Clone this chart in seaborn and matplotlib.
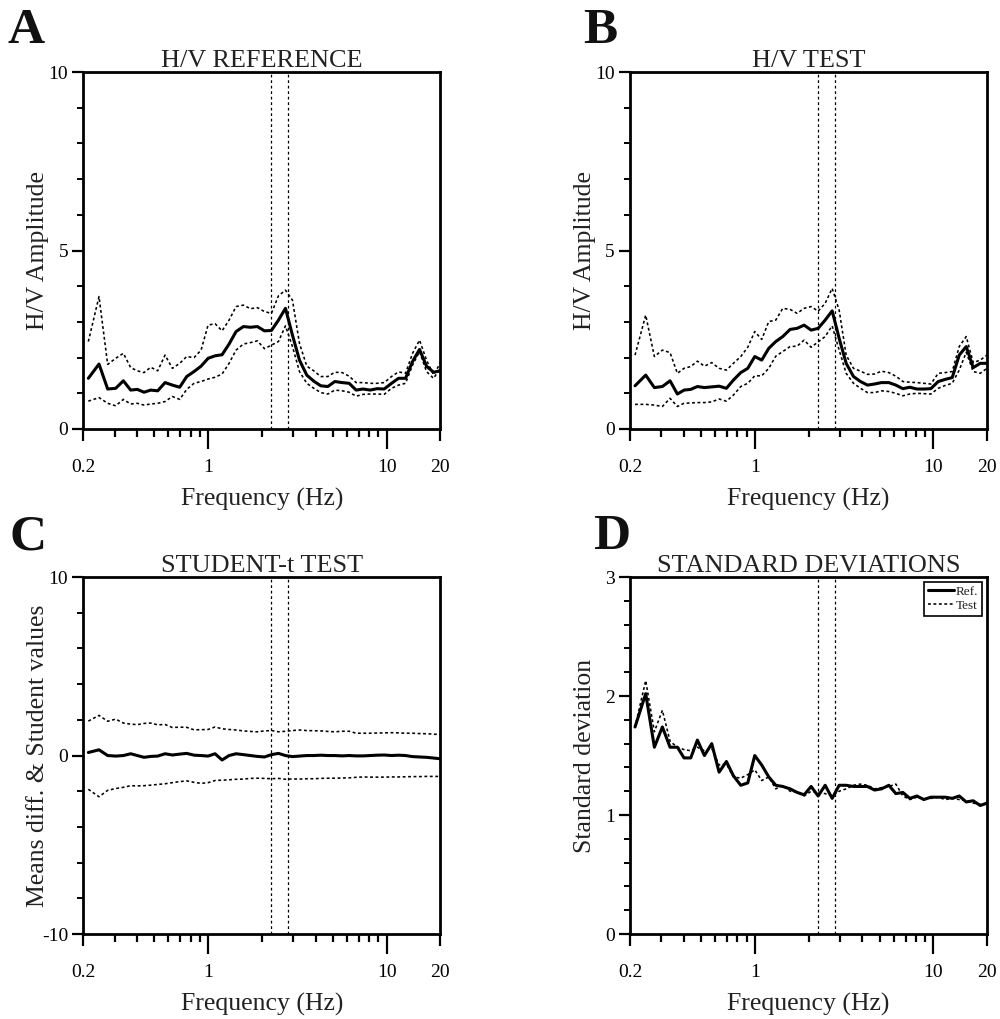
import matplotlib
matplotlib.use("Agg")
import matplotlib.pyplot as plt
from matplotlib.ticker import FixedLocator, NullFormatter, FixedFormatter
import seaborn as sns
import pandas as pd

# ---------------- data ----------------
freq = [0.2134, 0.2449, 0.2739, 0.3037, 0.3353, 0.3685, 0.4016, 0.4377, 0.4771, 0.5223,
        0.5741, 0.6311, 0.6936, 0.7592, 0.8347, 0.9138, 1.000, 1.094, 1.198, 1.311,
        1.435, 1.578, 1.727, 1.890, 2.069, 2.265, 2.479, 2.714, 2.970, 3.251,
        3.573, 3.911, 4.280, 4.687, 5.129, 5.638, 6.171, 6.755, 7.392, 8.092,
        8.857, 9.696, 10.66, 11.67, 12.77, 13.98, 15.30, 16.74, 18.33, 20.0]

ref_mean = [1.42, 1.82, 1.12, 1.14, 1.35, 1.09, 1.11, 1.03, 1.09, 1.07,
            1.30, 1.23, 1.17, 1.47, 1.61, 1.76, 1.98, 2.05, 2.08, 2.38,
            2.73, 2.87, 2.85, 2.87, 2.75, 2.76, 3.05, 3.38, 2.63, 1.93,
            1.51, 1.34, 1.21, 1.19, 1.33, 1.30, 1.28, 1.09, 1.12, 1.09,
            1.13, 1.12, 1.28, 1.42, 1.42, 1.89, 2.23, 1.76, 1.59, 1.63]
ref_upper = [2.45, 3.71, 1.81, 1.98, 2.12, 1.72, 1.63, 1.58, 1.73, 1.63,
             2.07, 1.70, 1.84, 2.03, 2.00, 2.21, 2.91, 2.95, 2.75, 3.05,
             3.43, 3.47, 3.37, 3.40, 3.29, 3.24, 3.73, 3.89, 3.61, 2.40,
             1.76, 1.63, 1.47, 1.47, 1.59, 1.58, 1.48, 1.30, 1.30, 1.28,
             1.28, 1.30, 1.47, 1.60, 1.56, 2.12, 2.49, 1.93, 1.52, 1.84]
ref_lower = [0.78, 0.88, 0.72, 0.65, 0.83, 0.70, 0.72, 0.67, 0.70, 0.72,
             0.77, 0.91, 0.83, 1.11, 1.28, 1.33, 1.40, 1.45, 1.54, 1.84,
             2.21, 2.38, 2.42, 2.47, 2.25, 2.35, 2.45, 2.89, 2.31, 1.61,
             1.28, 1.14, 1.02, 0.98, 1.09, 1.07, 1.03, 0.92, 0.97, 0.98,
             0.98, 0.97, 1.14, 1.23, 1.28, 1.79, 2.17, 1.61, 1.42, 1.70]

test_mean = [1.21, 1.51, 1.16, 1.19, 1.35, 0.98, 1.09, 1.11, 1.19, 1.16,
             1.18, 1.20, 1.14, 1.37, 1.58, 1.70, 2.03, 1.93, 2.26, 2.45,
             2.59, 2.79, 2.82, 2.91, 2.77, 2.82, 3.05, 3.31, 2.54, 1.84,
             1.47, 1.33, 1.23, 1.26, 1.30, 1.30, 1.23, 1.13, 1.17, 1.12,
             1.12, 1.13, 1.33, 1.39, 1.44, 2.07, 2.31, 1.72, 1.84, 1.84]
test_upper = [2.07, 3.19, 2.03, 2.21, 2.14, 1.56, 1.70, 1.75, 1.90, 1.76,
              1.86, 1.70, 1.65, 1.84, 2.03, 2.29, 2.73, 2.51, 3.01, 3.05,
              3.38, 3.35, 3.24, 3.38, 3.43, 3.30, 3.52, 3.94, 3.33, 2.07,
              1.70, 1.62, 1.53, 1.54, 1.62, 1.58, 1.48, 1.33, 1.31, 1.30,
              1.28, 1.26, 1.56, 1.58, 1.61, 2.31, 2.59, 1.86, 1.93, 2.07]
test_lower = [0.69, 0.69, 0.67, 0.63, 0.86, 0.63, 0.72, 0.73, 0.74, 0.74,
              0.76, 0.84, 0.78, 0.95, 1.19, 1.28, 1.49, 1.49, 1.70, 2.04,
              2.17, 2.31, 2.32, 2.49, 2.29, 2.44, 2.59, 2.89, 2.21, 1.56,
              1.28, 1.14, 1.02, 1.02, 1.07, 1.05, 1.00, 0.93, 0.98, 1.00,
              0.99, 0.98, 1.14, 1.22, 1.28, 1.65, 2.15, 1.61, 1.56, 1.70]

mean_diff = [0.17, 0.32, 0.00, -0.03, 0.00, 0.10, 0.00, -0.10, -0.05, -0.03,
             0.10, 0.03, 0.08, 0.12, 0.02, 0.00, -0.03, 0.10, -0.25, 0.00,
             0.10, 0.05, 0.00, -0.05, -0.08, 0.05, 0.12, 0.00, -0.06, -0.03,
             0.00, 0.00, 0.02, 0.00, 0.00, -0.02, 0.00, -0.02, -0.02, 0.00,
             0.02, 0.03, 0.00, 0.02, 0.00, -0.06, -0.08, -0.10, -0.14, -0.18]
student_upper = [1.93, 2.25, 1.92, 2.04, 1.82, 1.76, 1.73, 1.80, 1.82, 1.72,
                 1.74, 1.57, 1.59, 1.58, 1.44, 1.45, 1.46, 1.60, 1.50, 1.46,
                 1.43, 1.38, 1.35, 1.33, 1.38, 1.40, 1.33, 1.36, 1.40, 1.43,
                 1.40, 1.39, 1.38, 1.35, 1.33, 1.36, 1.36, 1.25, 1.25, 1.25,
                 1.26, 1.27, 1.28, 1.27, 1.25, 1.25, 1.23, 1.22, 1.20, 1.17]
student_lower = [-1.89, -2.31, -1.95, -1.85, -1.78, -1.69, -1.70, -1.69, -1.66, -1.62,
                 -1.58, -1.52, -1.46, -1.42, -1.50, -1.56, -1.52, -1.40, -1.38, -1.36,
                 -1.33, -1.32, -1.28, -1.27, -1.28, -1.30, -1.28, -1.33, -1.31, -1.32,
                 -1.30, -1.30, -1.28, -1.27, -1.27, -1.26, -1.25, -1.22, -1.20, -1.21,
                 -1.21, -1.21, -1.20, -1.20, -1.19, -1.18, -1.18, -1.17, -1.17, -1.17]

std_ref = [1.74, 2.02, 1.57, 1.74, 1.57, 1.57, 1.48, 1.48, 1.63, 1.50,
           1.60, 1.36, 1.45, 1.33, 1.25, 1.27, 1.50, 1.42, 1.32, 1.25,
           1.24, 1.22, 1.19, 1.17, 1.24, 1.16, 1.25, 1.14, 1.25, 1.25,
           1.24, 1.24, 1.24, 1.21, 1.22, 1.25, 1.18, 1.19, 1.14, 1.16,
           1.13, 1.15, 1.15, 1.15, 1.14, 1.16, 1.11, 1.12, 1.08, 1.10]
std_test = [1.74, 2.13, 1.70, 1.88, 1.62, 1.57, 1.55, 1.54, 1.57, 1.54,
            1.56, 1.42, 1.43, 1.32, 1.31, 1.34, 1.38, 1.29, 1.32, 1.22,
            1.25, 1.20, 1.19, 1.16, 1.20, 1.19, 1.18, 1.16, 1.20, 1.22,
            1.25, 1.26, 1.25, 1.22, 1.23, 1.24, 1.26, 1.16, 1.13, 1.15,
            1.14, 1.14, 1.15, 1.13, 1.14, 1.13, 1.12, 1.10, 1.09, 1.10]

peak_band = [2.26, 2.82]

x_major = [0.2, 1, 10, 20]
x_major_labels = ["0.2", "1", "10", "20"]
x_minor = [0.3, 0.4, 0.5, 0.6, 0.7, 0.8, 0.9, 2, 3, 4, 5, 6, 7, 8, 9]

# ---------------- style ----------------
sns.set_theme(style="ticks")
plt.rcParams["font.family"] = ["Liberation Serif", "DejaVu Serif"]
plt.rcParams["axes.unicode_minus"] = False
plt.rcParams["axes.linewidth"] = 2.0
plt.rcParams["axes.edgecolor"] = "black"
plt.rcParams["xtick.color"] = "black"
plt.rcParams["ytick.color"] = "black"
plt.rcParams["text.color"] = "#222222"

fig = plt.figure(figsize=(10, 10.19), dpi=100)
W, H = 0.357, 0.3503
axA = fig.add_axes([0.0833, 0.579, W, H])
axB = fig.add_axes([0.630, 0.579, W, H])
axC = fig.add_axes([0.0833, 0.0834, W, H])
axD = fig.add_axes([0.630, 0.0834, W, H])

MEAN_LW = 2.2
STD_LW = 1.15
DOT = (0, (1.8, 1.6))

def hv_panel(ax, m, up, lo):
    df = pd.DataFrame({"freq": freq, "mean": m, "upper": up, "lower": lo})
    sns.lineplot(data=df, x="freq", y="upper", ax=ax, color="black", lw=STD_LW,
                 linestyle=DOT, errorbar=None)
    sns.lineplot(data=df, x="freq", y="lower", ax=ax, color="black", lw=STD_LW,
                 linestyle=DOT, errorbar=None)
    sns.lineplot(data=df, x="freq", y="mean", ax=ax, color="black", lw=MEAN_LW,
                 errorbar=None)

hv_panel(axA, ref_mean, ref_upper, ref_lower)
hv_panel(axB, test_mean, test_upper, test_lower)
hv_panel(axC, mean_diff, student_upper, student_lower)

dfD = pd.DataFrame({"freq": freq, "Ref.": std_ref, "Test": std_test})
sns.lineplot(data=dfD, x="freq", y="Ref.", ax=axD, color="black", lw=MEAN_LW,
             errorbar=None, label="Ref.")
sns.lineplot(data=dfD, x="freq", y="Test", ax=axD, color="black", lw=STD_LW,
             linestyle=DOT, errorbar=None, label="Test")

leg = axD.legend(loc="upper right", fontsize=9.5, frameon=True, fancybox=False,
                 edgecolor="black", framealpha=1, borderaxespad=0.35,
                 handlelength=2.0, handletextpad=0.15, borderpad=0.3,
                 labelspacing=0.15)
leg.get_frame().set_linewidth(1.2)

panels = [
    (axA, "H/V REFERENCE", "H/V Amplitude", (0, 10), [0, 5, 10],
     [1, 2, 3, 4, 6, 7, 8, 9]),
    (axB, "H/V TEST", "H/V Amplitude", (0, 10), [0, 5, 10],
     [1, 2, 3, 4, 6, 7, 8, 9]),
    (axC, "STUDENT-t TEST", "Means diff. & Student values", (-10, 10),
     [-10, 0, 10], [-8, -6, -4, -2, 2, 4, 6, 8]),
    (axD, "STANDARD DEVIATIONS", "Standard deviation", (0, 3), [0, 1, 2, 3],
     [0.2, 0.4, 0.6, 0.8, 1.2, 1.4, 1.6, 1.8, 2.2, 2.4, 2.6, 2.8]),
]

for ax, title, ylab, ylim, ymaj, ymin in panels:
    for f in peak_band:
        ax.axvline(f, color="black", lw=0.9, linestyle=(0, (2.2, 2.2)), zorder=1)
    ax.set_xscale("log")
    ax.set_xlim(0.2, 20)
    ax.set_ylim(*ylim)
    ax.xaxis.set_major_locator(FixedLocator(x_major))
    ax.xaxis.set_major_formatter(FixedFormatter(x_major_labels))
    ax.xaxis.set_minor_locator(FixedLocator(x_minor))
    ax.xaxis.set_minor_formatter(NullFormatter())
    ax.yaxis.set_major_locator(FixedLocator(ymaj))
    ax.yaxis.set_minor_locator(FixedLocator(ymin))
    ax.tick_params(axis="x", which="major", direction="out", length=14.5,
                   width=1.6, pad=7, labelsize=14)
    ax.tick_params(axis="x", which="minor", direction="out", length=6,
                   width=1.6)
    ax.tick_params(axis="y", which="major", direction="out", length=8,
                   width=1.6, pad=3, labelsize=14)
    ax.tick_params(axis="y", which="minor", direction="out", length=4.5,
                   width=1.4)
    mt = ax.xaxis.get_major_ticks()
    mt[0].tick1line.set_markersize(8.5)
    mt[-1].tick1line.set_markersize(8.5)
    ax.set_title(title, fontsize=18.9, pad=2.5, color="#222222")
    ax.set_xlabel("Frequency (Hz)", fontsize=18.5, labelpad=9, color="#222222")
    ax.set_ylabel(ylab, fontsize=18.5, color="#222222")
    ax.yaxis.set_label_coords(-0.095, 0.5)
    for s in ax.spines.values():
        s.set_visible(True)
        s.set_linewidth(2.0)

letter_kw = dict(fontsize=37, fontweight="bold", color="#111111", va="baseline")
fig.text(0.008, 0.9578, "A", **letter_kw)
fig.text(0.583, 0.9578, "B", **letter_kw)
fig.text(0.009, 0.4612, "C", **letter_kw)
fig.text(0.593, 0.4612, "D", **letter_kw)

fig.savefig("out.png", dpi=100, facecolor="white")
